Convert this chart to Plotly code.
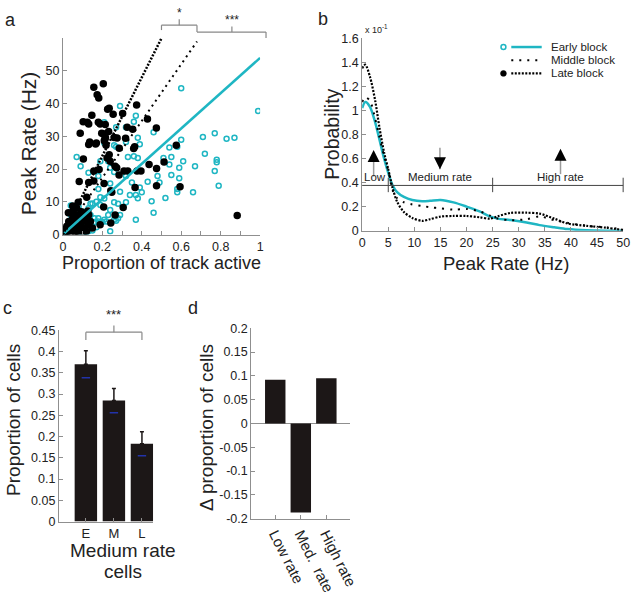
import plotly.graph_objects as go

# ---------------- panel a : peak rate vs proportion of track active
early_x = [0.29, 0.37, 0.36, 0.46, 0.27, 0.32, 0.21, 0.21, 0.26, 0.27, 0.32, 0.38, 0.39, 0.60,
           0.99, 0.60, 0.58, 0.54, 0.71, 0.77, 0.83, 0.87, 0.72, 0.78, 0.78, 0.77, 0.79, 0.67,
           0.61, 0.55, 0.51, 0.54, 0.59, 0.59, 0.55, 0.07, 0.09, 0.13, 0.18, 0.19, 0.23, 0.24,
           0.26, 0.33, 0.36, 0.38, 0.32, 0.35, 0.39, 0.40, 0.37, 0.38, 0.34, 0.29, 0.32, 0.28,
           0.27, 0.37, 0.46, 0.45, 0.48, 0.49, 0.52, 0.58, 0.58, 0.66, 0.43, 0.24, 0.18, 0.19,
           0.14, 0.14, 0.18, 0.23, 0.24, 0.28, 0.16, 0.24, 0.04, 0.04, 0.08, 0.11, 0.13, 0.09,
           0.08, 0.13, 0.26, 0.19, 0.21, 0.03, 0.05, 0.02, 0.04, 0.06, 0.08, 0.10, 0.12, 0.14,
           0.16, 0.18, 0.20, 0.05, 0.07, 0.09, 0.11, 0.13, 0.15, 0.17, 0.19, 0.21, 0.10, 0.03,
           0.22, 0.26, 0.29, 0.12, 0.15, 0.17]
early_y = [39.3, 36.3, 34.5, 31.3, 32.8, 32.8, 34.3, 28.0, 27.3, 26.8, 28.3, 29.6, 27.6, 44.7,
           37.8, 29.0, 26.8, 26.6, 29.8, 31.0, 29.3, 29.6, 24.7, 22.9, 22.1, 19.4, 14.9, 20.9,
           22.4, 23.7, 23.4, 21.4, 20.4, 17.2, 18.2, 23.7, 20.9, 18.9, 17.9, 22.4, 22.4, 20.4,
           19.1, 23.7, 23.9, 23.4, 17.9, 15.9, 14.4, 12.9, 12.1, 11.1, 12.1, 13.1, 9.9, 9.4,
           4.2, 4.5, 6.7, 10.2, 17.9, 15.9, 11.2, 13.9, 12.9, 12.9, 16.1, 15.6, 13.9, 11.4,
           9.4, 6.0, 5.0, 6.0, 7.5, 5.0, 3.8, 1.0, 8.9, 6.0, 8.4, 4.5, 3.5, 2.0,
           1.0, 1.0, 9.9, 3.5, 4.5, 4.0, 3.0, 1.0, 2.0, 1.5, 3.0, 2.5, 4.0, 3.0,
           5.0, 4.0, 3.8, 4.5, 6.0, 5.0, 7.0, 8.0, 9.5, 10.0, 9.0, 11.0, 0.5, 3.0,
           4.0, 4.5, 6.0, 0.8, 1.2, 2.2]

late_x = [0.157, 0.205, 0.174, 0.182, 0.147, 0.103, 0.124, 0.131, 0.180, 0.215, 0.227, 0.235,
          0.255, 0.303, 0.374, 0.429, 0.474, 0.354, 0.318, 0.275, 0.232, 0.197, 0.205, 0.214,
          0.219, 0.170, 0.131, 0.136, 0.088, 0.104, 0.083, 0.157, 0.184, 0.157, 0.131, 0.078,
          0.121, 0.224, 0.235, 0.265, 0.273, 0.285, 0.310, 0.329, 0.376, 0.396, 0.437, 0.475,
          0.513, 0.575, 0.364, 0.359, 0.286, 0.326, 0.475, 0.366, 0.594, 0.306, 0.243, 0.248,
          0.209, 0.050, 0.028, 0.053, 0.094, 0.127, 0.131, 0.103, 0.189, 0.243, 0.265, 0.207,
          0.884, 0.260, 0.240, 0.189, 0.216, 0.210, 0.166,
          0.00, 0.01, 0.02, 0.03, 0.04, 0.05, 0.06, 0.07, 0.08, 0.03, 0.05, 0.06, 0.07, 0.09,
          0.10, 0.11, 0.02, 0.04, 0.06, 0.09, 0.12, 0.03, 0.08, 0.10, 0.12, 0.13, 0.15, 0.05,
          0.07, 0.02, 0.01, 0.04, 0.08, 0.11, 0.14]
late_y = [45.0, 46.1, 42.7, 41.7, 36.5, 34.5, 34.3, 33.8, 34.3, 33.6, 38.3, 38.6,
          36.8, 37.0, 39.6, 35.3, 32.6, 32.2, 29.4, 29.5, 31.5, 31.0, 30.8, 29.3,
          27.3, 28.0, 27.5, 28.3, 31.0, 23.1, 16.2, 16.4, 19.9, 19.4, 15.9, 9.9,
          11.4, 23.4, 24.4, 20.9, 20.4, 18.2, 19.4, 19.4, 19.4, 19.4, 21.4, 20.2,
          22.2, 27.3, 26.8, 26.3, 26.4, 32.8, 14.9, 14.4, 14.6, 8.3, 13.4, 12.9,
          15.6, 8.7, 6.7, 5.8, 7.0, 7.2, 6.0, 5.0, 3.0, 3.5, 6.0, 8.4,
          5.8, 29.7, 22.4, 33.8, 29.7, 28.7, 27.7,
          0.0, 0.5, 1.0, 2.0, 1.5, 3.0, 2.0, 1.0, 2.5, 4.0, 5.0, 4.0, 6.0, 3.0,
          4.0, 2.0, 0.3, 0.5, 0.8, 1.5, 1.0, 3.0, 5.5, 6.5, 5.0, 3.0, 2.0, 7.0,
          8.0, 2.5, 1.5, 3.5, 0.5, 1.0, 4.0]

fit_early_x = [0, 1.0]
fit_early_y = [0, 54]
fit_middle_x = [0, 0.68]
fit_middle_y = [0, 59]
fit_late_x = [0, 0.5]
fit_late_y = [0, 60]

# ---------------- panel b : peak rate distributions
rate = [0, 0.6, 1.5, 2.5, 3.3, 4.2, 5, 5.8, 6.7, 8, 9.6, 11.5, 13, 15, 17.5, 20, 22.5,
        24.5, 26, 28.5, 31.5, 34, 36.8, 39.3, 43, 46.8, 50]
prob_early = [1.02, 1.07, 1.03, 0.90, 0.76, 0.60, 0.48, 0.38, 0.32, 0.28, 0.255, 0.245, 0.248,
              0.255, 0.235, 0.20, 0.16, 0.118, 0.10, 0.088, 0.068, 0.046, 0.028, 0.013, 0.003,
              0.0, 0.0]
prob_middle = [1.07, 1.11, 1.08, 0.93, 0.78, 0.62, 0.50, 0.34, 0.27, 0.236, 0.218, 0.205,
               0.195, 0.185, 0.175, 0.18, 0.16, 0.125, 0.10, 0.087, 0.095, 0.118, 0.087, 0.065,
               0.04, 0.027, 0.012]
prob_late = [1.35, 1.38, 1.28, 1.08, 0.86, 0.65, 0.51, 0.36, 0.24, 0.154, 0.106, 0.081, 0.095,
             0.117, 0.122, 0.122, 0.111, 0.10, 0.12, 0.148, 0.149, 0.142, 0.10, 0.06, 0.04,
             0.024, 0.005]

# ---------------- panel c : medium rate cells per block
blocks = ['E', 'M', 'L']
medium_prop = [0.370, 0.285, 0.183]
medium_err = [0.032, 0.028, 0.028]
medium_mark = [0.338, 0.256, 0.155]

# ---------------- panel d : change in proportion
groups = ['Low rate', 'Med.  rate', 'High rate']
delta_prop = [0.092, -0.187, 0.095]

CYAN = '#1fb6c3'
BAR = '#1c1717'
AX = '#8f8f8f'
TXT = '#222222'
FONT = 'Liberation Sans, Arial, sans-serif'

dom = {
    'a': ([0.0953, 0.4094], [0.6097, 0.9464]),
    'b': ([0.5719, 0.9875], [0.6164, 0.9464]),
    'c': ([0.0891, 0.2391], [0.1173, 0.4456]),
    'd': ([0.3953, 0.5531], [0.1223, 0.4489]),
}
rng = {
    'a': ([0, 1], [0, 60]),
    'b': ([0, 50], [0, 1.6]),
    'c': ([0.04, 3.4], [0, 0.45]),
    'd': ([0.06, 3.94], [-0.2, 0.2]),
}


def px(p, x, y):
    # data -> paper coords, so brackets can sit above the plot area
    (x0, x1), (y0, y1) = rng[p]
    (dx0, dx1), (dy0, dy1) = dom[p]
    return (dx0 + (x - x0) / (x1 - x0) * (dx1 - dx0),
            dy0 + (y - y0) / (y1 - y0) * (dy1 - dy0))


fig = go.Figure()

# a
fig.add_trace(go.Scatter(x=early_x, y=early_y, mode='markers', xaxis='x', yaxis='y',
                         marker=dict(symbol='circle-open', size=5, color=CYAN, line=dict(width=1.5))))
fig.add_trace(go.Scatter(x=late_x, y=late_y, mode='markers', xaxis='x', yaxis='y',
                         marker=dict(symbol='circle', size=7.5, color='black')))
fig.add_trace(go.Scatter(x=fit_early_x, y=fit_early_y, mode='lines', xaxis='x', yaxis='y',
                         line=dict(color=CYAN, width=2.5)))
fig.add_trace(go.Scatter(x=fit_middle_x, y=fit_middle_y, mode='lines', xaxis='x', yaxis='y',
                         line=dict(color='black', width=2, dash='2px,4px')))
fig.add_trace(go.Scatter(x=fit_late_x, y=fit_late_y, mode='lines', xaxis='x', yaxis='y',
                         line=dict(color='black', width=2.5, dash='2px,1.5px')))

# b
fig.add_trace(go.Scatter(x=rate, y=prob_early, mode='lines', xaxis='x2', yaxis='y2',
                         line=dict(color=CYAN, width=2.5, shape='spline', smoothing=0.8)))
fig.add_trace(go.Scatter(x=rate, y=prob_middle, mode='lines', xaxis='x2', yaxis='y2',
                         line=dict(color='black', width=2, dash='2px,6px', shape='spline', smoothing=0.8)))
fig.add_trace(go.Scatter(x=rate, y=prob_late, mode='lines', xaxis='x2', yaxis='y2',
                         line=dict(color='black', width=2.2, dash='2px,1.5px', shape='spline', smoothing=0.8)))

# c
fig.add_trace(go.Bar(x=[1, 2, 3], y=medium_prop, xaxis='x3', yaxis='y3', width=0.8,
                     marker=dict(color=BAR, line=dict(width=0)),
                     error_y=dict(type='data', array=medium_err, arrayminus=[0, 0, 0],
                                  color=BAR, thickness=1.5, width=2)))
fig.add_trace(go.Scatter(x=[1, 2, 3], y=medium_mark, mode='markers', xaxis='x3', yaxis='y3',
                         marker=dict(symbol='line-ew', size=6, line=dict(color='#2233aa', width=1.5))))

# d
fig.add_trace(go.Bar(x=[1, 2, 3], y=delta_prop, xaxis='x4', yaxis='y4', width=0.8,
                     marker=dict(color=BAR, line=dict(width=0))))

axis_common = dict(showline=True, linecolor=AX, linewidth=1, ticks='inside', ticklen=4,
                   tickcolor=AX, showgrid=False, zeroline=False,
                   tickfont=dict(size=12.5, color=TXT, family=FONT))

fig.update_layout(
    width=640, height=597, margin=dict(l=0, r=0, t=0, b=0),
    paper_bgcolor='white', plot_bgcolor='white', showlegend=False,
    font=dict(family=FONT, color=TXT),
    bargap=0.2,
    xaxis=dict(axis_common, domain=dom['a'][0], range=rng['a'][0], anchor='y',
               tickvals=[0, 0.2, 0.4, 0.6, 0.8, 1], ticktext=['0', '0.2', '0.4', '0.6', '0.8', '1'],
               minor=dict(dtick=0.1, ticks='inside', ticklen=4, tickcolor=AX)),
    yaxis=dict(axis_common, domain=dom['a'][1], range=rng['a'][1], anchor='x',
               tickvals=[0, 10, 20, 30, 40, 50]),
    xaxis2=dict(axis_common, domain=dom['b'][0], range=rng['b'][0], anchor='y2',
                tickvals=list(range(0, 55, 5))),
    yaxis2=dict(axis_common, domain=dom['b'][1], range=rng['b'][1], anchor='x2',
                tickvals=[0, 0.2, 0.4, 0.6, 0.8, 1, 1.2, 1.4, 1.6],
                ticktext=['0', '0.2', '0.4', '0.6', '0.8', '1', '1.2', '1.4', '1.6']),
    xaxis3=dict(axis_common, domain=dom['c'][0], range=rng['c'][0], anchor='y3',
                tickvals=[1, 2, 3], ticktext=blocks, tickfont=dict(size=13, color=TXT, family=FONT)),
    yaxis3=dict(axis_common, domain=dom['c'][1], range=rng['c'][1], anchor='x3',
                tickvals=[0, 0.05, 0.1, 0.15, 0.2, 0.25, 0.3, 0.35, 0.4, 0.45],
                ticktext=['0', '0.05', '0.1', '0.15', '0.2', '0.25', '0.3', '0.35', '0.4', '0.45']),
    xaxis4=dict(axis_common, domain=dom['d'][0], range=rng['d'][0], anchor='y4',
                tickvals=[1, 2, 3], ticktext=groups, tickangle=63,
                tickfont=dict(size=15, color=TXT, family=FONT)),
    yaxis4=dict(axis_common, domain=dom['d'][1], range=rng['d'][1], anchor='x4',
                zeroline=True, zerolinecolor=AX, zerolinewidth=1,
                tickvals=[-0.2, -0.15, -0.1, -0.05, 0, 0.05, 0.1, 0.15, 0.2],
                ticktext=['-0.2', '-0.15', '-0.1', '-0.05', '0', '0.05', '0.1', '0.15', '0.2']),
)

shapes = []
ann = []


def seg(p, x0, y0, x1, y1, color='#888888', width=1.2, dash=None):
    a0 = px(p, x0, y0)
    a1 = px(p, x1, y1)
    shapes.append(dict(type='line', xref='paper', yref='paper', x0=a0[0], y0=a0[1],
                       x1=a1[0], y1=a1[1], line=dict(color=color, width=width, dash=dash)))


def txt(p, x, y, s, size=12):
    a = px(p, x, y)
    ann.append(dict(xref='paper', yref='paper', x=a[0], y=a[1], text=s, showarrow=False,
                    xanchor='center', yanchor='middle',
                    font=dict(size=size, color=TXT, family=FONT)))


# significance brackets, panel a
seg('a', 0.5, 62.5, 0.5, 64)
seg('a', 0.5, 64, 0.68, 64)
seg('a', 0.68, 64, 0.68, 61.9)
seg('a', 0.59, 64, 0.59, 65.8)
txt('a', 0.59, 67.6, '*', size=12)
seg('a', 0.68, 61.9, 1.03, 61.9)
seg('a', 1.03, 61.9, 1.03, 60.1)
seg('a', 0.857, 61.9, 0.857, 63.6)
txt('a', 0.857, 65.6, '***', size=12)

# bracket, panel c
seg('c', 1, 0.427, 1, 0.4454)
seg('c', 1, 0.4454, 3, 0.4454)
seg('c', 3, 0.4454, 3, 0.427)
seg('c', 2, 0.4454, 2, 0.461)
txt('c', 2, 0.488, '***', size=13)

# rate class ranges, panel b
seg('b', 0, 0.376, 50, 0.376, color='#444444', width=1)
for xv in [5, 25, 50]:
    seg('b', xv, 0.32, xv, 0.44, color='#444444', width=1)
txt('b', 2.4, 0.445, 'Low', size=11.5)
txt('b', 15, 0.445, 'Medium rate', size=11.5)
txt('b', 38, 0.445, 'High rate', size=11.5)

# arrows, panel b (gray shaft, black head)
for xv, yt, yb, up in [(2.2, 0.67, 0.45, True), (14.9, 0.69, 0.51, False), (38.0, 0.68, 0.47, True)]:
    seg('b', xv, yb, xv, yt - 0.03 if up else yt, color='#9a9a9a', width=1.5)
    tip = px('b', xv, yt if up else yb)
    ann.append(dict(xref='paper', yref='paper', x=tip[0], y=tip[1], ax=0, ay=10 if up else -10,
                    showarrow=True, arrowhead=2, arrowsize=1.5, arrowwidth=1.6, arrowcolor='black',
                    text=''))

# exponent label, panel b
ann.append(dict(xref='paper', yref='paper', x=0.573, y=0.963, xanchor='left', yanchor='middle',
                text='x 10<sup>-1</sup>', showarrow=False, font=dict(size=9, color=TXT, family=FONT)))

# legend, panel b (drawn by hand)
W, H = 640.0, 597.0
leg = [('Early block', CYAN, None, 2.5, 'open', 41),
       ('Middle block', 'black', '2px,6px', 2, None, 54.5),
       ('Late block', 'black', '2px,1.5px', 2.2, 'filled', 68)]
for name, col, dash, lw, mk, yy in leg:
    yp = 1 - yy / H
    shapes.append(dict(type='line', xref='paper', yref='paper', x0=518 / W, x1=549 / W, y0=yp, y1=yp,
                       line=dict(color=col, width=lw, dash=dash)))
    if mk == 'open':
        shapes.append(dict(type='circle', xref='paper', yref='paper', x0=507.5 / W, x1=512.5 / W,
                           y0=yp - 2.5 / H, y1=yp + 2.5 / H, line=dict(color=CYAN, width=1.5)))
    elif mk == 'filled':
        shapes.append(dict(type='circle', xref='paper', yref='paper', x0=507 / W, x1=513 / W,
                           y0=yp - 3 / H, y1=yp + 3 / H, fillcolor='black', line=dict(color='black', width=0.5)))
    ann.append(dict(xref='paper', yref='paper', x=556 / W, y=yp, xanchor='left', yanchor='middle',
                    text=name, showarrow=False, font=dict(size=11.5, color=TXT, family=FONT)))

# axis titles
titles = [
    ('Peak Rate (Hz)', 26, 140, -90, 21),
    ('Proportion of track active', 162, 262, 0, 18),
    ('Probability', 335, 130, -90, 19.5),
    ('Peak Rate (Hz)', 513, 263, 0, 18.5),
    ('Proportion of cells', 10, 423, -90, 19),
    ('Medium rate', 122, 557, 0, 19),
    ('cells', 122, 578, 0, 19),
    ('\u0394 proportion of cells', 208, 431, -90, 19),
]
for s, x, y, ang, size in titles:
    ann.append(dict(xref='paper', yref='paper', x=x / W, y=1 - y / H, text=s, textangle=ang,
                    showarrow=False, xanchor='center', yanchor='middle',
                    font=dict(size=size, color=TXT, family=FONT)))

# panel letters
for s, x, y in [('a', 8, 13), ('b', 326, 12), ('c', 5, 308), ('d', 194, 308)]:
    ann.append(dict(xref='paper', yref='paper', x=x / W, y=1 - y / H, text=s, showarrow=False,
                    xanchor='center', yanchor='middle', font=dict(size=18, color=TXT, family=FONT)))

fig.update_layout(shapes=shapes, annotations=ann)

fig.write_html("out.html", config={'displayModeBar': False},
               post_script="document.body.style.margin='0';")
